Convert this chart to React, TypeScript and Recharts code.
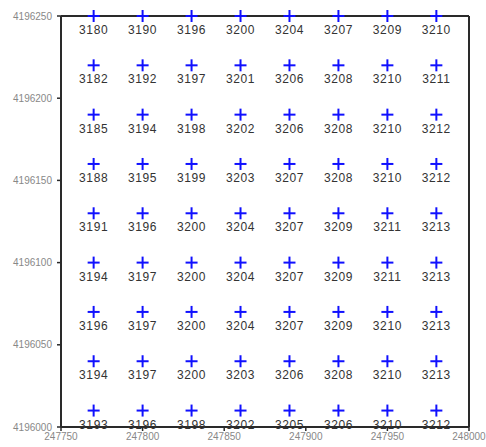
import { ScatterChart, Scatter, XAxis, YAxis } from 'recharts';

// grid of sample points (easting / northing) with measured values
const eastings = [247770, 247800, 247830, 247860, 247890, 247920, 247950, 247980];
const northings = [4196250, 4196220, 4196190, 4196160, 4196130, 4196100, 4196070, 4196040, 4196010];

const row1 = [3180, 3190, 3196, 3200, 3204, 3207, 3209, 3210];
const row2 = [3182, 3192, 3197, 3201, 3206, 3208, 3210, 3211];
const row3 = [3185, 3194, 3198, 3202, 3206, 3208, 3210, 3212];
const row4 = [3188, 3195, 3199, 3203, 3207, 3208, 3210, 3212];
const row5 = [3191, 3196, 3200, 3204, 3207, 3209, 3211, 3213];
const row6 = [3194, 3197, 3200, 3204, 3207, 3209, 3211, 3213];
const row7 = [3196, 3197, 3200, 3204, 3207, 3209, 3210, 3213];
const row8 = [3194, 3197, 3200, 3203, 3206, 3208, 3210, 3213];
const row9 = [3193, 3196, 3198, 3202, 3205, 3206, 3210, 3212];

const rows = [row1, row2, row3, row4, row5, row6, row7, row8, row9];

const xTicks = [247750, 247800, 247850, 247900, 247950, 248000];
const yTicks = [4196000, 4196050, 4196100, 4196150, 4196200, 4196250];

const points = rows.flatMap((vals, r) =>
  vals.map((v, c) => ({ x: eastings[c], y: northings[r], z: v }))
);

const FONT = '"Liberation Sans", Arial, sans-serif';

function PlusMark(props: any) {
  const { cx, cy, payload } = props;
  if (cx == null || cy == null) return null;
  return (
    <g>
      <line x1={cx - 6} y1={cy} x2={cx + 6} y2={cy} stroke="#1010ff" strokeWidth={2} />
      <line x1={cx} y1={cy - 6} x2={cx} y2={cy + 6} stroke="#1010ff" strokeWidth={2} />
      <text
        x={cx}
        y={cy + 14}
        textAnchor="middle"
        dominantBaseline="central"
        fontSize={12}
        fontFamily={FONT}
        fill="#333"
        letterSpacing={0.6}
      >
        {payload.z}
      </text>
    </g>
  );
}

const axisLine = { stroke: '#2a2a2a', strokeWidth: 2 };
const tickLine = { stroke: '#2a2a2a', strokeWidth: 1.5 };
const tickStyle = { fontSize: 10, fill: '#888', fontFamily: FONT };

export default function App() {
  return (
    <div style={{ position: 'absolute', left: 0, top: 0, background: '#fff' }}>
      <ScatterChart width={486} height={447} margin={{ top: 0, right: 0, bottom: 0, left: 0 }}>
        <XAxis
          xAxisId="bottom"
          type="number"
          dataKey="x"
          orientation="bottom"
          domain={[247750, 248000]}
          ticks={xTicks}
          height={20}
          tickSize={4}
          tickMargin={2}
          axisLine={axisLine}
          tickLine={tickLine}
          tick={tickStyle}
          interval={0}
        />
        <XAxis
          xAxisId="top"
          type="number"
          dataKey="x"
          orientation="top"
          domain={[247750, 248000]}
          ticks={xTicks}
          height={16}
          tickSize={4}
          axisLine={axisLine}
          tickLine={tickLine}
          tickFormatter={() => ''}
          interval={0}
        />
        <YAxis
          yAxisId="left"
          type="number"
          dataKey="y"
          orientation="left"
          domain={[4196000, 4196250]}
          ticks={yTicks}
          width={61}
          tickSize={4}
          tickMargin={5}
          axisLine={axisLine}
          tickLine={tickLine}
          tick={tickStyle}
          interval={0}
        />
        <YAxis
          yAxisId="right"
          type="number"
          dataKey="y"
          orientation="right"
          domain={[4196000, 4196250]}
          ticks={yTicks}
          width={17}
          tickSize={4}
          axisLine={axisLine}
          tickLine={tickLine}
          tickFormatter={() => ''}
          interval={0}
        />
        <Scatter
          data={points}
          xAxisId="bottom"
          yAxisId="left"
          shape={<PlusMark />}
          isAnimationActive={false}
        />
      </ScatterChart>
    </div>
  );
}
